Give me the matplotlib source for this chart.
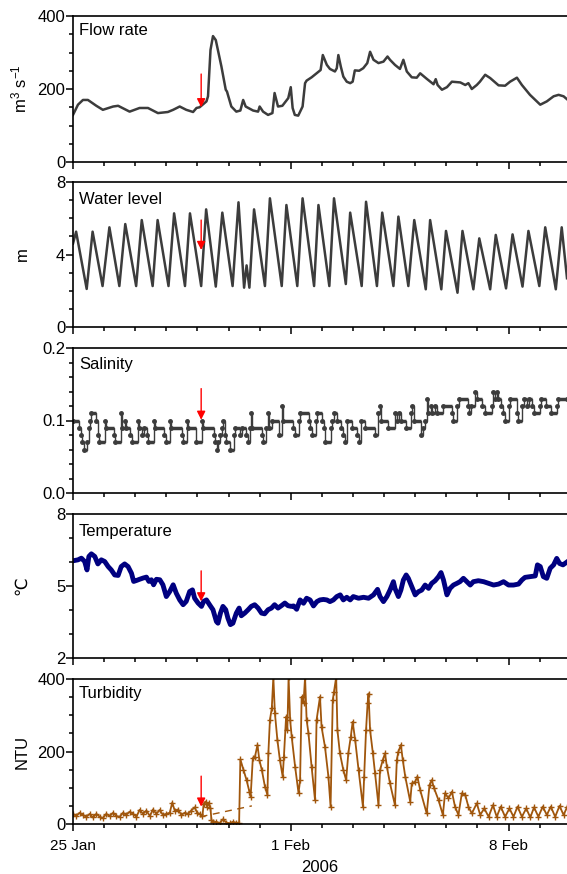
import matplotlib
matplotlib.use('Agg')
import matplotlib.pyplot as plt
from matplotlib.ticker import MultipleLocator, FixedLocator, FormatStrFormatter

plt.rcParams['font.family'] = ['Liberation Sans', 'DejaVu Sans']
plt.rcParams['mathtext.fontset'] = 'custom'
plt.rcParams['mathtext.rm'] = 'Liberation Sans'
plt.rcParams['mathtext.it'] = 'Liberation Sans:italic'

# time axis: days after 25 Jan 2006 00:00
date_ticks = [0, 7, 14]
date_labels = ['25 Jan', '1 Feb', '8 Feb']
event_day = 4.12  # red arrow

# flow rate (m3/s)
flow = [(0.00, 129), (0.16, 157), (0.32, 170), (0.48, 170), (0.75, 154), (0.96, 143),
        (1.29, 152), (1.45, 154), (1.82, 138), (2.14, 148), (2.41, 148), (2.73, 134),
        (3.05, 137), (3.22, 143), (3.43, 152), (3.64, 143), (3.86, 137), (3.97, 148),
        (4.07, 150), (4.29, 166), (4.34, 180), (4.42, 307), (4.50, 345), (4.59, 334),
        (4.77, 262), (4.91, 198), (4.95, 193), (4.98, 184), (5.09, 152), (5.25, 138),
        (5.38, 141), (5.47, 170), (5.55, 152), (5.79, 141), (5.95, 138), (6.00, 152),
        (6.11, 138), (6.27, 129), (6.41, 134), (6.48, 189), (6.59, 152), (6.73, 154),
        (6.92, 175), (7.00, 205), (7.06, 148), (7.13, 129), (7.24, 127), (7.38, 152),
        (7.46, 216), (7.51, 223), (7.67, 232), (7.83, 243), (7.96, 252), (8.03, 293),
        (8.16, 266), (8.26, 255), (8.42, 248), (8.48, 257), (8.53, 293), (8.61, 261),
        (8.69, 234), (8.80, 220), (8.91, 216), (8.99, 220), (9.06, 251), (9.20, 250),
        (9.33, 257), (9.46, 271), (9.55, 302), (9.66, 280), (9.82, 271), (9.98, 275),
        (10.11, 289), (10.19, 280), (10.35, 266), (10.51, 255), (10.62, 280), (10.73, 248),
        (10.89, 232), (11.05, 231), (11.16, 243), (11.37, 228), (11.59, 213), (11.66, 227),
        (11.72, 211), (11.86, 198), (12.02, 205), (12.18, 220), (12.45, 218), (12.61, 211),
        (12.71, 216), (12.82, 200), (12.98, 211), (13.08, 220), (13.25, 239), (13.41, 230),
        (13.68, 210), (13.89, 209), (14.05, 220), (14.27, 231), (14.43, 211), (14.69, 184),
        (14.80, 175), (15.02, 157), (15.23, 166), (15.45, 180), (15.61, 184), (15.77, 180),
        (15.88, 172)]

# water level (m): highs and lows of the tide
level = [(0.00, 4.6), (0.10, 5.26), (0.44, 2.10), (0.63, 5.26), (0.95, 2.26), (1.17, 5.50),
         (1.49, 2.26), (1.68, 5.68), (2.03, 2.26), (2.21, 5.90), (2.56, 2.26), (2.72, 5.90),
         (3.07, 2.26), (3.25, 6.27), (3.60, 2.26), (3.76, 6.27), (4.12, 2.26), (4.28, 6.49),
         (4.59, 2.23), (4.80, 6.31), (5.13, 2.26), (5.32, 6.88), (5.50, 2.17), (5.58, 3.4),
         (5.67, 2.17), (5.82, 6.49), (6.17, 2.26), (6.33, 7.10), (6.71, 2.26), (6.86, 6.73),
         (7.21, 2.26), (7.38, 7.10), (7.75, 2.26), (7.89, 6.73), (8.24, 2.26), (8.39, 7.10),
         (8.77, 2.37), (8.91, 6.31), (9.28, 2.26), (9.42, 6.91), (9.77, 2.26), (9.94, 6.31),
         (10.30, 2.26), (10.46, 6.09), (10.78, 2.26), (10.97, 5.90), (11.34, 2.08), (11.48, 5.90),
         (11.84, 2.08), (11.99, 5.30), (12.36, 1.89), (12.52, 5.30), (12.87, 2.08), (13.06, 4.89),
         (13.41, 2.08), (13.59, 5.08), (13.92, 2.13), (14.13, 5.11), (14.45, 2.23), (14.64, 5.30),
         (14.99, 2.26), (15.18, 5.50), (15.52, 2.08), (15.71, 5.50), (15.88, 2.69)]

# salinity: (start day, value) of each constant run
salinity = [(0.000, 0.10), (0.193, 0.09), (0.247, 0.08), (0.300, 0.07), (0.343, 0.06), (0.461, 0.07),
            (0.504, 0.09), (0.547, 0.10), (0.589, 0.11), (0.750, 0.10), (0.793, 0.08), (0.836, 0.07),
            (1.029, 0.10), (1.072, 0.09), (1.308, 0.08), (1.350, 0.07), (1.543, 0.11), (1.586, 0.09),
            (1.672, 0.10), (1.715, 0.09), (1.843, 0.08), (1.886, 0.07), (2.079, 0.10), (2.122, 0.09),
            (2.229, 0.08), (2.272, 0.09), (2.379, 0.08), (2.422, 0.07), (2.604, 0.10), (2.647, 0.09),
            (2.937, 0.08), (2.980, 0.07), (3.119, 0.10), (3.162, 0.09), (3.494, 0.08), (3.537, 0.07),
            (3.655, 0.10), (3.698, 0.09), (3.966, 0.07), (4.137, 0.10), (4.180, 0.09), (4.523, 0.08),
            (4.566, 0.07), (4.630, 0.06), (4.673, 0.07), (4.737, 0.08), (4.802, 0.09), (4.834, 0.10),
            (4.887, 0.08), (4.930, 0.07), (5.037, 0.06), (5.166, 0.08), (5.209, 0.09), (5.380, 0.08),
            (5.423, 0.09), (5.573, 0.08), (5.627, 0.07), (5.681, 0.09), (5.724, 0.11), (5.766, 0.09),
            (6.066, 0.08), (6.109, 0.07), (6.217, 0.09), (6.260, 0.11), (6.302, 0.09), (6.410, 0.10),
            (6.624, 0.08), (6.710, 0.12), (6.752, 0.10), (7.086, 0.09), (7.139, 0.08), (7.268, 0.10),
            (7.311, 0.11), (7.579, 0.10), (7.622, 0.09), (7.675, 0.08), (7.804, 0.10), (7.847, 0.11),
            (8.018, 0.10), (8.061, 0.09), (8.115, 0.07), (8.286, 0.09), (8.329, 0.10), (8.393, 0.11),
            (8.501, 0.10), (8.608, 0.09), (8.693, 0.08), (8.747, 0.07), (8.801, 0.10), (8.961, 0.09),
            (9.144, 0.08), (9.186, 0.07), (9.272, 0.10), (9.379, 0.09), (9.722, 0.08), (9.819, 0.11),
            (9.862, 0.12), (9.905, 0.10), (10.140, 0.09), (10.365, 0.11), (10.408, 0.10), (10.494, 0.11),
            (10.537, 0.10), (10.698, 0.09), (10.869, 0.11), (10.912, 0.12), (10.955, 0.10), (11.180, 0.08),
            (11.266, 0.09), (11.330, 0.10), (11.373, 0.13), (11.416, 0.11), (11.502, 0.12), (11.544, 0.11),
            (11.652, 0.12), (11.694, 0.11), (11.909, 0.12), (12.177, 0.11), (12.230, 0.10), (12.359, 0.12),
            (12.423, 0.13), (12.691, 0.12), (12.745, 0.11), (12.809, 0.12), (12.938, 0.14), (12.981, 0.13),
            (13.152, 0.12), (13.238, 0.11), (13.474, 0.12), (13.517, 0.14), (13.560, 0.13), (13.624, 0.14),
            (13.667, 0.13), (13.774, 0.12), (13.838, 0.11), (13.881, 0.10), (14.010, 0.12), (14.052, 0.13),
            (14.267, 0.11), (14.310, 0.10), (14.439, 0.12), (14.503, 0.13), (14.610, 0.12), (14.653, 0.13),
            (14.760, 0.12), (14.824, 0.11), (14.996, 0.12), (15.038, 0.13), (15.210, 0.12), (15.381, 0.11),
            (15.553, 0.12), (15.596, 0.13), (15.885, 0.13)]

# temperature (deg C)
temperature = [(0.00, 6.05), (0.16, 6.09), (0.27, 6.16), (0.375, 6.02), (0.45, 5.67), (0.51, 6.23),
               (0.59, 6.34), (0.70, 6.23), (0.80, 5.92), (0.91, 6.09), (1.02, 6.02), (1.13, 5.81),
               (1.23, 5.67), (1.34, 5.46), (1.45, 5.44), (1.55, 5.81), (1.66, 5.92), (1.77, 5.81),
               (1.88, 5.53), (1.95, 5.19), (2.04, 5.23), (2.14, 5.28), (2.25, 5.33), (2.36, 5.37),
               (2.44, 5.19), (2.52, 5.26), (2.59, 5.05), (2.68, 5.28), (2.79, 5.26), (2.89, 5.05),
               (3.00, 4.56), (3.11, 4.77), (3.22, 5.05), (3.32, 4.70), (3.43, 4.42), (3.54, 4.22),
               (3.64, 4.36), (3.75, 4.77), (3.84, 4.84), (3.91, 4.49), (4.02, 4.29), (4.13, 4.15),
               (4.20, 4.36), (4.29, 4.42), (4.39, 4.22), (4.50, 4.01), (4.61, 3.52), (4.66, 3.45),
               (4.74, 3.87), (4.82, 4.15), (4.91, 4.01), (4.98, 3.66), (5.06, 3.39), (5.14, 3.45),
               (5.25, 3.87), (5.34, 4.08), (5.41, 3.76), (5.52, 3.87), (5.63, 4.01), (5.73, 4.15),
               (5.84, 4.22), (5.95, 4.08), (6.06, 3.87), (6.16, 3.84), (6.27, 4.01), (6.38, 4.08),
               (6.48, 4.22), (6.59, 4.08), (6.70, 4.18), (6.81, 4.29), (6.91, 4.18), (7.02, 4.15),
               (7.09, 4.17), (7.19, 4.03), (7.30, 4.42), (7.41, 4.28), (7.51, 4.49), (7.62, 4.42),
               (7.73, 4.17), (7.84, 4.35), (7.94, 4.42), (8.05, 4.44), (8.16, 4.42), (8.26, 4.35),
               (8.37, 4.42), (8.48, 4.56), (8.59, 4.63), (8.69, 4.42), (8.80, 4.53), (8.91, 4.42),
               (9.01, 4.56), (9.18, 4.49), (9.34, 4.53), (9.50, 4.49), (9.66, 4.63), (9.79, 4.86),
               (9.87, 4.56), (9.98, 4.35), (10.09, 4.56), (10.19, 4.83), (10.30, 5.18), (10.35, 4.90),
               (10.46, 4.56), (10.54, 4.83), (10.62, 5.25), (10.71, 5.46), (10.78, 5.32), (10.89, 4.97),
               (11.00, 4.63), (11.10, 4.76), (11.21, 4.83), (11.32, 5.04), (11.43, 4.90), (11.53, 5.11),
               (11.64, 5.22), (11.75, 5.39), (11.83, 5.56), (11.91, 5.25), (12.02, 4.63), (12.12, 4.90),
               (12.23, 5.04), (12.34, 5.11), (12.44, 5.18), (12.55, 5.32), (12.66, 5.18), (12.77, 5.04),
               (12.87, 5.18), (13.03, 5.22), (13.20, 5.18), (13.36, 5.11), (13.52, 5.04), (13.68, 5.08),
               (13.84, 5.18), (14.00, 5.04), (14.16, 5.04), (14.32, 5.08), (14.43, 5.25), (14.53, 5.36),
               (14.70, 5.39), (14.86, 5.42), (14.93, 5.88), (15.02, 5.81), (15.12, 5.39), (15.23, 5.32),
               (15.34, 5.74), (15.45, 5.88), (15.55, 6.15), (15.64, 5.94), (15.75, 5.88), (15.89, 6.01)]

# turbidity (NTU)
turbidity = [(0.00, 28), (0.11, 22), (0.21, 31), (0.32, 25), (0.43, 20), (0.54, 28), (0.64, 18),
             (0.75, 28), (0.86, 20), (0.96, 16), (1.07, 28), (1.18, 22), (1.29, 31), (1.39, 22),
             (1.50, 20), (1.61, 31), (1.71, 25), (1.82, 34), (1.93, 28), (2.04, 20), (2.14, 39),
             (2.25, 28), (2.36, 37), (2.47, 22), (2.57, 40), (2.68, 28), (2.79, 39), (2.89, 25),
             (3.00, 28), (3.11, 31), (3.19, 59), (3.27, 37), (3.38, 40), (3.48, 25), (3.59, 31),
             (3.70, 28), (3.80, 37), (3.91, 46), (3.99, 31), (4.07, 28), (4.16, 22), (4.20, 55),
             (4.27, 62), (4.31, 48), (4.37, 57), (4.42, 43), (4.45, 11), (4.50, 5), (4.61, 6),
             (4.72, 2), (4.82, 13), (4.93, 4), (5.04, 2), (5.14, 6), (5.25, 3), (5.34, 4),
             (5.38, 178), (5.48, 149), (5.58, 121), (5.67, 89), (5.71, 75), (5.78, 181), (5.85, 186),
             (5.93, 218), (5.99, 177), (6.07, 149), (6.17, 103), (6.25, 80), (6.28, 195), (6.33, 287),
             (6.39, 319), (6.44, 405), (6.49, 306), (6.57, 232), (6.65, 177), (6.74, 131), (6.78, 186),
             (6.85, 296), (6.89, 259), (6.93, 405), (6.98, 287), (7.03, 241), (7.14, 158), (7.25, 85),
             (7.30, 121), (7.35, 351), (7.41, 333), (7.46, 405), (7.51, 287), (7.57, 250), (7.67, 158),
             (7.78, 66), (7.83, 287), (7.94, 351), (7.99, 268), (8.10, 213), (8.21, 131), (8.28, 48),
             (8.35, 342), (8.39, 365), (8.46, 405), (8.50, 259), (8.58, 195), (8.69, 149), (8.78, 121),
             (8.85, 195), (8.93, 241), (8.99, 282), (9.07, 232), (9.18, 149), (9.32, 48), (9.36, 131),
             (9.42, 259), (9.47, 333), (9.50, 360), (9.55, 259), (9.64, 195), (9.71, 140), (9.82, 52),
             (9.87, 149), (9.96, 177), (10.03, 195), (10.09, 158), (10.19, 112), (10.35, 52), (10.41, 177),
             (10.46, 200), (10.54, 218), (10.60, 177), (10.68, 131), (10.84, 62), (10.89, 112), (11.00, 117),
             (11.07, 131), (11.16, 94), (11.37, 29), (11.46, 108), (11.53, 121), (11.61, 98), (11.75, 66),
             (11.89, 25), (11.96, 85), (12.07, 71), (12.18, 89), (12.28, 48), (12.39, 25), (12.50, 85),
             (12.61, 80), (12.71, 48), (12.82, 29), (12.98, 57), (13.09, 25), (13.22, 43), (13.36, 20),
             (13.50, 52), (13.62, 20), (13.75, 48), (13.89, 20), (14.03, 43), (14.16, 20), (14.29, 48),
             (14.43, 20), (14.57, 43), (14.70, 18), (14.82, 46), (14.96, 20), (15.10, 48), (15.23, 25),
             (15.36, 48), (15.50, 20), (15.64, 50), (15.77, 25), (15.89, 48)]

# dashed baseline across the gap in turbidity
turb_base = [(4.10, 20), (5.75, 50)]

# arrow (tail, tip) per panel
arrows = [(241, 150), (5.9, 4.25), (0.144, 0.101), (5.63, 4.36), (132, 48)]

gray = '#3c3c3c'
brown = '#a0560c'
navy = '#000080'

W, H = 567, 874
fig = plt.figure(figsize=(W / 100, H / 100), dpi=100)
tops = [16, 182, 348, 514, 679]
bots = [162, 327, 493, 658, 824]
axes = [fig.add_axes([73 / W, 1 - b / H, 494 / W, (b - t) / H]) for t, b in zip(tops, bots)]

panels = [
    dict(name='Flow rate', ylim=(0, 400), major=[0, 200, 400], minor=50, fmt='%d',
         label=r'm$^{3}$ s$^{-1}$', ty=0.955),
    dict(name='Water level', ylim=(0, 8), major=[0, 4, 8], minor=1, fmt='%d', label='m', ty=0.93),
    dict(name='Salinity', ylim=(0, 0.2), major=[0, 0.1, 0.2], minor=0.02, fmt='%.1f', label='', ty=0.935),
    dict(name='Temperature', ylim=(2, 8), major=[2, 5, 8], minor=1, fmt='%d', label='\u2103', ty=0.93),
    dict(name='Turbidity', ylim=(0, 400), major=[0, 200, 400], minor=50, fmt='%d', label='NTU', ty=0.95),
]

for ax, p, (tail, tip) in zip(axes, panels, arrows):
    ax.set_xlim(0, 15.88)
    ax.set_ylim(*p['ylim'])
    ax.xaxis.set_major_locator(FixedLocator(date_ticks))
    ax.xaxis.set_minor_locator(MultipleLocator(1))
    ax.yaxis.set_major_locator(FixedLocator(p['major']))
    ax.yaxis.set_minor_locator(MultipleLocator(p['minor']))
    ax.yaxis.set_major_formatter(FormatStrFormatter(p['fmt']))
    ax.spines['right'].set_visible(False)
    for s in ['left', 'top', 'bottom']:
        ax.spines[s].set_linewidth(1.2)
    ax.tick_params(which='major', direction='out', length=5, width=1.1)
    ax.tick_params(which='minor', direction='out', length=3, width=1.1)
    ax.tick_params(axis='y', labelsize=12, pad=0.5)
    ax.tick_params(axis='x', labelbottom=False, labelsize=11, pad=5.5)
    ax.text(0.012, p['ty'], p['name'], transform=ax.transAxes, fontsize=12, va='top', ha='left')
    if p['label']:
        ax.set_ylabel(p['label'], fontsize=12)
        ax.yaxis.set_label_coords(-0.088, 0.5)
    ax.annotate('', xy=(event_day, tip), xytext=(event_day, tail),
                arrowprops=dict(arrowstyle='-|>,head_length=0.5,head_width=0.25',
                                color='red', lw=1, shrinkA=0, shrinkB=0), zorder=5)

t, v = zip(*flow)
axes[0].plot(t, v, color=gray, lw=1.8)

t, v = zip(*level)
axes[1].plot(t, v, color=gray, lw=1.8)

t, v = zip(*salinity)
axes[2].step(t, v, where='post', color=gray, lw=1)
axes[2].hlines(v[:-1], t[:-1], t[1:], color=gray, lw=2.5)
axes[2].plot(t, v, 'o', color=gray, ms=2.5)

t, v = zip(*temperature)
axes[3].plot(t, v, color=navy, lw=3.5)

t, v = zip(*turbidity)
axes[4].plot(t, v, color=brown, lw=1.3, marker='+', ms=4, mew=1)
t, v = zip(*turb_base)
axes[4].plot(t, v, color=brown, lw=1, ls=(0, (5, 4)))

axes[4].tick_params(axis='x', labelbottom=True)
axes[4].set_xticklabels(date_labels)
axes[4].set_xlabel('2006', fontsize=12, labelpad=5)

fig.savefig('out.png', dpi=100)
